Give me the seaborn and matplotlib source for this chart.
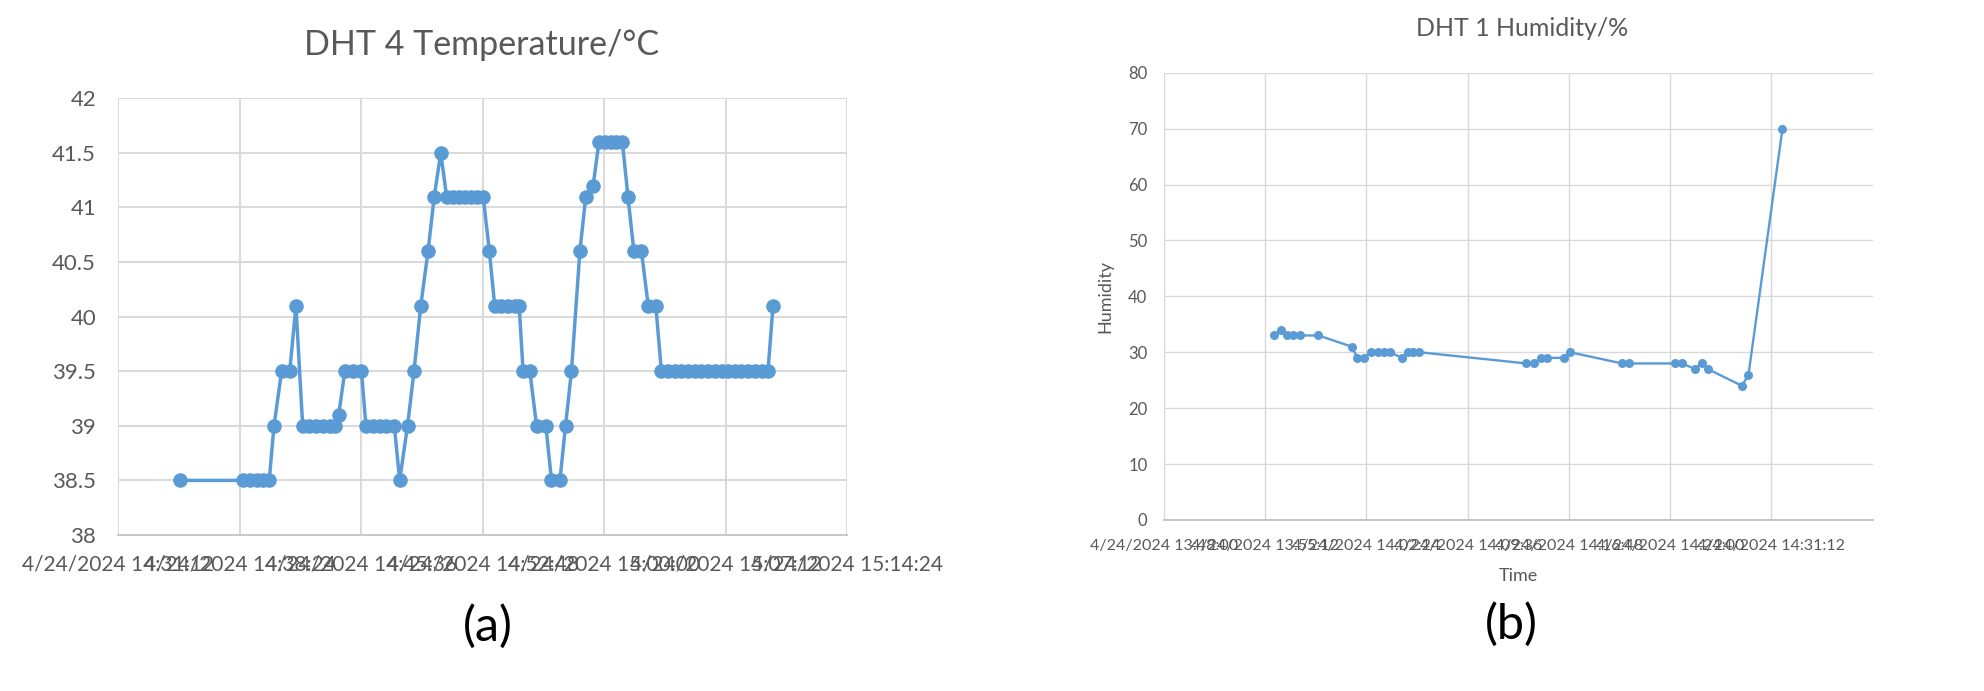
import matplotlib
matplotlib.use("Agg")
import matplotlib.pyplot as plt
import seaborn as sns
import pandas as pd

# ---------------- data ----------------
DATE = "2024-04-24"

temp_times = ["14:34:52", "14:38:36", "14:39:00", "14:39:24", "14:39:48", "14:40:09",
              "14:40:26", "14:40:53", "14:41:22", "14:41:44", "14:42:08", "14:42:31",
              "14:42:55", "14:43:21", "14:43:45", "14:44:02", "14:44:16", "14:44:38",
              "14:45:08", "14:45:37", "14:45:53", "14:46:19", "14:46:43", "14:47:06",
              "14:47:34", "14:47:53", "14:48:21", "14:48:44", "14:49:08", "14:49:34",
              "14:49:56", "14:50:19", "14:50:40", "14:51:04", "14:51:25", "14:51:46",
              "14:52:07", "14:52:29", "14:52:50", "14:53:12", "14:53:31", "14:53:55",
              "14:54:19", "14:54:43", "14:54:58", "14:55:12", "14:55:36", "14:56:00",
              "14:56:33", "14:56:53", "14:57:23", "14:57:43", "14:58:04", "14:58:34",
              "14:58:55", "14:59:21", "14:59:42", "15:00:02", "15:00:23", "15:00:44",
              "15:01:05", "15:01:25", "15:01:46", "15:02:13", "15:02:37", "15:03:04",
              "15:03:24", "15:03:47", "15:04:11", "15:04:35", "15:04:59", "15:05:22",
              "15:05:46", "15:06:10", "15:06:34", "15:06:58", "15:07:21", "15:07:45",
              "15:08:08", "15:08:32", "15:08:56", "15:09:20", "15:09:43", "15:10:01"]
temp_values = [38.5, 38.5, 38.5, 38.5, 38.5, 38.5,
               39, 39.5, 39.5, 40.1, 39, 39,
               39, 39, 39, 39, 39.1, 39.5,
               39.5, 39.5, 39, 39, 39, 39,
               39, 38.5, 39, 39.5, 40.1, 40.6,
               41.1, 41.5, 41.1, 41.1, 41.1, 41.1,
               41.1, 41.1, 41.1, 40.6, 40.1, 40.1,
               40.1, 40.1, 40.1, 39.5, 39.5, 39,
               39, 38.5, 38.5, 39, 39.5, 40.6,
               41.1, 41.2, 41.6, 41.6, 41.6, 41.6,
               41.6, 41.1, 40.6, 40.6, 40.1, 40.1,
               39.5, 39.5, 39.5, 39.5, 39.5, 39.5,
               39.5, 39.5, 39.5, 39.5, 39.5, 39.5,
               39.5, 39.5, 39.5, 39.5, 39.5, 40.1]

hum_times = ["13:55:50", "13:56:18", "13:56:44", "13:57:12", "13:57:41", "13:58:59",
             "14:01:21", "14:01:45", "14:02:14", "14:02:42", "14:03:11", "14:03:39",
             "14:04:05", "14:04:55", "14:05:19", "14:05:44", "14:06:10", "14:13:45",
             "14:14:17", "14:14:48", "14:15:13", "14:16:25", "14:16:53", "14:20:34",
             "14:21:02", "14:24:22", "14:24:50", "14:25:47", "14:26:15", "14:26:40",
             "14:29:06", "14:29:34", "14:31:59"]
hum_values = [33, 34, 33, 33, 33, 33,
              31, 29, 29, 30, 30, 30,
              30, 29, 30, 30, 30, 28,
              28, 29, 29, 29, 30, 28,
              28, 28, 28, 27, 28, 27,
              24, 26, 70]

temp_xticklabels = ["4/24/2024 14:31:12", "4/24/2024 14:38:24", "4/24/2024 14:45:36",
                    "4/24/2024 14:52:48", "4/24/2024 15:00:00", "4/24/2024 15:07:12",
                    "4/24/2024 15:14:24"]
temp_yticks = [38, 38.5, 39, 39.5, 40, 40.5, 41, 41.5, 42]

hum_xticklabels = ["4/24/2024 13:48:00", "4/24/2024 13:55:12", "4/24/2024 14:02:24",
                   "4/24/2024 14:09:36", "4/24/2024 14:16:48", "4/24/2024 14:24:00",
                   "4/24/2024 14:31:12"]
hum_xmax = "4/24/2024 14:38:24"
hum_yticks = [0, 10, 20, 30, 40, 50, 60, 70, 80]

title_a = "DHT 4 Temperature/°C"
title_b = "DHT 1 Humidity/%"

# ---------------- style ----------------
sns.set_style("white")
plt.rcParams["font.family"] = ["Lato", "DejaVu Sans"]

BLUE = "#5B9BD5"
GRAY_TXT = "#595959"
GRID = "#D9D9D9"


def to_dt(ts):
    return pd.to_datetime([f"{DATE} {t}" for t in ts])


def lab_dt(labels):
    return pd.to_datetime(labels, format="%m/%d/%Y %H:%M:%S")


def fmt(v):
    return f"{v:g}"


fig = plt.figure(figsize=(19.84, 6.91), dpi=100)
axA = fig.add_axes([0.0596, 0.2258, 0.3673, 0.632])
axB = fig.add_axes([0.5867, 0.2475, 0.3572, 0.6473])

# ---- panel (a) ----
dfA = pd.DataFrame({"Time": to_dt(temp_times), "Temperature": temp_values})
sns.lineplot(data=dfA, x="Time", y="Temperature", ax=axA, color=BLUE,
             linewidth=2.5, marker="o", markersize=10.5, markeredgewidth=0)
tA = lab_dt(temp_xticklabels)
axA.set_xlim(tA[0], tA[-1])
axA.set_xticks(tA, temp_xticklabels)
axA.set_ylim(temp_yticks[0], temp_yticks[-1])
axA.set_yticks(temp_yticks, [fmt(v) for v in temp_yticks])
axA.grid(True, color=GRID, linewidth=1.4)
axA.tick_params(axis="x", length=0, pad=14, labelsize=15, labelcolor=GRAY_TXT)
axA.tick_params(axis="y", length=0, pad=16, labelsize=16, labelcolor=GRAY_TXT)
axA.set_xlabel("")
axA.set_ylabel("")
for s in ["top", "right", "left"]:
    axA.spines[s].set_visible(False)
axA.spines["bottom"].set_color("#C8C8C8")
axA.spines["bottom"].set_linewidth(1.4)

# ---- panel (b) ----
dfB = pd.DataFrame({"Time": to_dt(hum_times), "Humidity": hum_values})
sns.lineplot(data=dfB, x="Time", y="Humidity", ax=axB, color=BLUE,
             linewidth=1.7, marker="o", markersize=6.5, markeredgewidth=0)
tB = lab_dt(hum_xticklabels)
axB.set_xlim(tB[0], lab_dt([hum_xmax])[0])
axB.set_xticks(tB, hum_xticklabels)
axB.set_ylim(hum_yticks[0], hum_yticks[-1])
axB.set_yticks(hum_yticks, [fmt(v) for v in hum_yticks])
axB.grid(True, color=GRID, linewidth=1.0)
axB.tick_params(axis="x", length=0, pad=13.5, labelsize=11.5, labelcolor=GRAY_TXT)
axB.tick_params(axis="y", length=0, pad=12, labelsize=12, labelcolor=GRAY_TXT)
axB.set_xlabel("Time", fontsize=13, color=GRAY_TXT)
axB.set_ylabel("Humidity", fontsize=13, color=GRAY_TXT)
axB.xaxis.set_label_coords(0.5, -0.107)
axB.yaxis.set_label_coords(-0.072, 0.5)
for s in ["top", "right", "left"]:
    axB.spines[s].set_visible(False)
axB.spines["bottom"].set_color("#BFBFBF")
axB.spines["bottom"].set_linewidth(1.3)

# ---- titles and panel letters ----
fig.text(482 / 1984, 1 - 55 / 691, title_a, ha="center", va="baseline",
         fontsize=24.5, color=GRAY_TXT)
fig.text(1522 / 1984, 1 - 36 / 691, title_b, ha="center", va="baseline",
         fontsize=18, color=GRAY_TXT)
fig.text(488 / 1984, 1 - 626 / 691, "(a)", ha="center", va="center",
         fontsize=35, color="black")
fig.text(1511 / 1984, 1 - 624 / 691, "(b)", ha="center", va="center",
         fontsize=35, color="black")

fig.savefig("out.png", dpi=100, facecolor="white")
